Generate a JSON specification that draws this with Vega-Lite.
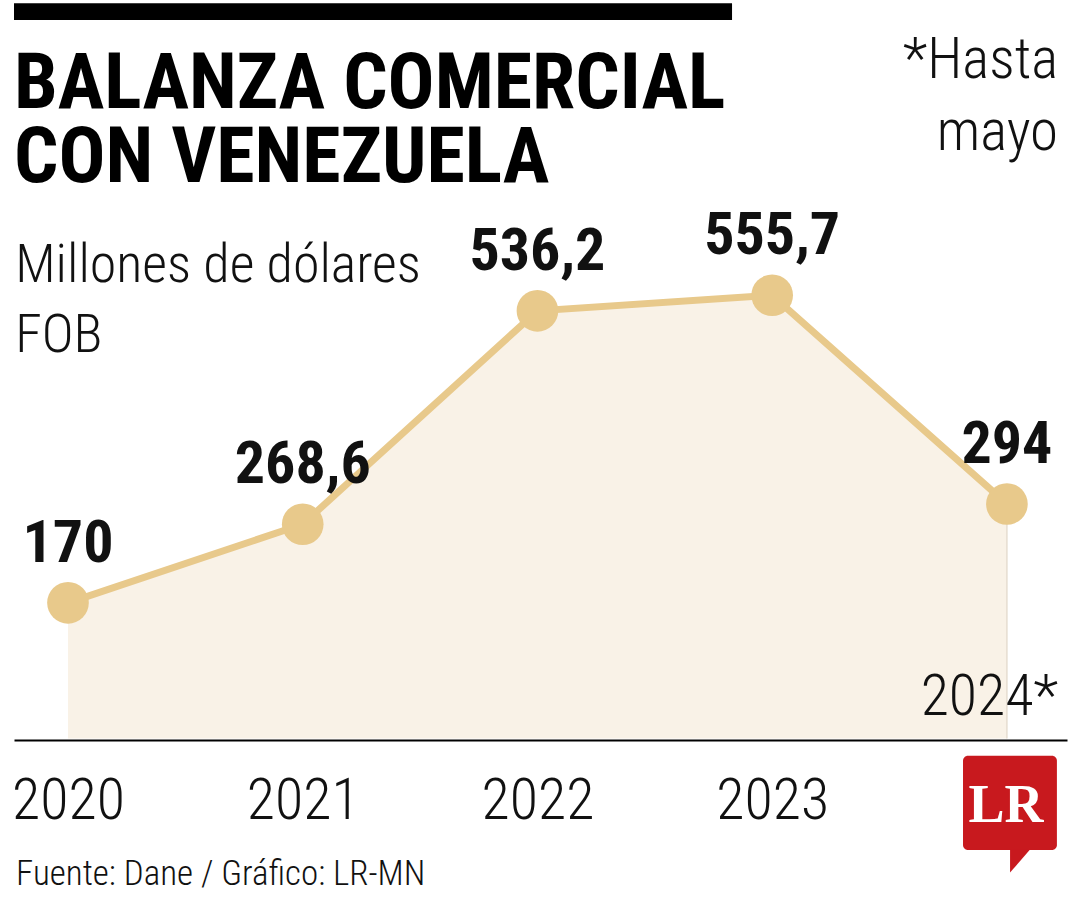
{
  "$schema": "https://vega.github.io/schema/vega-lite/v6.json",
  "width": 1053,
  "height": 740,
  "padding": {"left": 14, "right": 13, "top": 0, "bottom": 160},
  "autosize": {"type": "none"},
  "background": "white",
  "config": {
    "view": {"stroke": null},
    "axisX": {
      "title": null, "grid": false,
      "ticks": false, "domainColor": "#000000", "domainWidth": 2,
      "labelFont": "Roboto Condensed, DejaVu Sans Condensed, sans-serif", "labelFontWeight": 300,
      "labelFontSize": 58, "labelColor": "#111111", "labelPadding": 78,
      "labelBaseline": "alphabetic", "labelFlush": false, "labelOverlap": false
    }
  },
  "data": {
    "values": [
      {"year": 2020, "value": 170, "label": "170"},
      {"year": 2021, "value": 268.6, "label": "268,6"},
      {"year": 2022, "value": 536.2, "label": "536,2"},
      {"year": 2023, "value": 555.7, "label": "555,7"},
      {"year": 2024, "value": 294, "label": "294"}
    ]
  },
  "layer": [
    {
      "mark": {"type": "area", "color": "#F9F2E7"},
      "encoding": {
        "x": {"field": "year", "type": "quantitative", "title": null, "scale": {"domain": [2019.77, 2024.256], "nice": false, "zero": false}, "axis": {"values": [2020, 2021, 2022, 2023], "format": "d"}},
        "y": {"field": "value", "type": "quantitative", "scale": {"domain": [-2, 926], "nice": false, "zero": false}, "axis": null},
        "y2": {"datum": 0}
      }
    },
    {
      "transform": [{"filter": "datum.year == 2024"}],
      "mark": {"type": "rule", "color": "#E6DDD0", "strokeWidth": 1.5},
      "encoding": {
        "x": {"field": "year", "type": "quantitative", "title": null},
        "y": {"field": "value", "type": "quantitative", "axis": null},
        "y2": {"datum": 0}
      }
    },
    {
      "mark": {"type": "line", "color": "#E8C98B", "strokeWidth": 7},
      "encoding": {
        "x": {"field": "year", "type": "quantitative", "title": null},
        "y": {"field": "value", "type": "quantitative", "axis": null}
      }
    },
    {
      "mark": {"type": "point", "filled": true, "color": "#E8C98B", "opacity": 1, "size": 1735},
      "encoding": {
        "x": {"field": "year", "type": "quantitative", "title": null},
        "y": {"field": "value", "type": "quantitative", "axis": null}
      }
    },
    {
      "mark": {"type": "text", "dy": -41, "align": "center", "baseline": "alphabetic", "font": "Roboto Condensed, DejaVu Sans Condensed, sans-serif", "fontWeight": "bold", "fontSize": 60, "color": "#111111"},
      "encoding": {
        "x": {"field": "year", "type": "quantitative", "title": null},
        "y": {"field": "value", "type": "quantitative", "axis": null},
        "text": {"field": "label"}
      }
    },
    {
      "data": {"values": [{}]},
      "mark": {"type": "rect", "color": "#000000"},
      "encoding": {
        "x": {"datum": 2019.77, "type": "quantitative", "title": null},
        "x2": {"datum": 2022.829},
        "y": {"datum": 922, "type": "quantitative", "axis": null},
        "y2": {"datum": 901}
      }
    },
    {
      "data": {"values": [{}]},
      "mark": {"type": "text", "text": "BALANZA COMERCIAL\nCON VENEZUELA", "lineBreak": "\n", "lineHeight": 74, "align": "left", "baseline": "alphabetic", "font": "Roboto Condensed, DejaVu Sans Condensed, sans-serif", "fontWeight": "bold", "fontSize": 78, "color": "#000000"},
      "encoding": {
        "x": {"datum": 2019.77, "type": "quantitative", "title": null},
        "y": {"datum": 790.6, "type": "quantitative", "axis": null}
      }
    },
    {
      "data": {"values": [{}]},
      "mark": {"type": "text", "text": "*Hasta\nmayo", "lineBreak": "\n", "lineHeight": 72, "align": "right", "baseline": "alphabetic", "font": "Roboto Condensed, DejaVu Sans Condensed, sans-serif", "fontWeight": 300, "fontSize": 57, "color": "#111111"},
      "encoding": {
        "x": {"datum": 2024.218, "type": "quantitative", "title": null},
        "y": {"datum": 828.2, "type": "quantitative", "axis": null}
      }
    },
    {
      "data": {"values": [{}]},
      "mark": {"type": "text", "text": "Millones de dólares\nFOB", "lineBreak": "\n", "lineHeight": 70, "align": "left", "baseline": "alphabetic", "font": "Roboto Condensed, DejaVu Sans Condensed, sans-serif", "fontWeight": 300, "fontSize": 54, "color": "#111111"},
      "encoding": {
        "x": {"datum": 2019.775, "type": "quantitative", "title": null},
        "y": {"datum": 572.3, "type": "quantitative", "axis": null}
      }
    },
    {
      "data": {"values": [{}]},
      "mark": {"type": "text", "text": "2024*", "align": "right", "baseline": "alphabetic", "font": "Roboto Condensed, DejaVu Sans Condensed, sans-serif", "fontWeight": 300, "fontSize": 58, "color": "#111111"},
      "encoding": {
        "x": {"datum": 2024.218, "type": "quantitative", "title": null},
        "y": {"datum": 29.3, "type": "quantitative", "axis": null}
      }
    },
    {
      "data": {"values": [{}]},
      "mark": {"type": "text", "text": "Fuente: Dane / Gráfico: LR-MN", "align": "left", "baseline": "alphabetic", "font": "Roboto Condensed, DejaVu Sans Condensed, sans-serif", "fontWeight": 300, "fontSize": 35, "color": "#111111"},
      "encoding": {
        "x": {"datum": 2019.779, "type": "quantitative", "title": null},
        "y": {"datum": -183.9, "type": "quantitative", "axis": null}
      }
    },
    {
      "data": {"values": [{}]},
      "mark": {"type": "rect", "color": "#C8191E", "cornerRadius": 5},
      "encoding": {
        "x": {"datum": 2023.813, "type": "quantitative", "title": null},
        "x2": {"datum": 2024.213},
        "y": {"datum": -21.8, "type": "quantitative", "axis": null},
        "y2": {"datum": -140}
      }
    },
    {
      "data": {"values": [{}]},
      "mark": {"type": "point", "filled": true, "opacity": 1, "color": "#C8191E", "size": 576, "shape": "M-0.833,-0.958L0.833,-0.958L-0.833,0.958Z"},
      "encoding": {
        "x": {"datum": 2024.056, "type": "quantitative", "title": null},
        "y": {"datum": -153.8, "type": "quantitative", "axis": null}
      }
    },
    {
      "data": {"values": [{}]},
      "mark": {"type": "text", "text": "LR", "align": "center", "baseline": "alphabetic", "font": "Liberation Serif, DejaVu Serif, serif", "fontWeight": "bold", "fontSize": 54, "color": "#FFFFFF"},
      "encoding": {
        "x": {"datum": 2023.996, "type": "quantitative", "title": null},
        "y": {"datum": -104.5, "type": "quantitative", "axis": null}
      }
    }
  ]
}
